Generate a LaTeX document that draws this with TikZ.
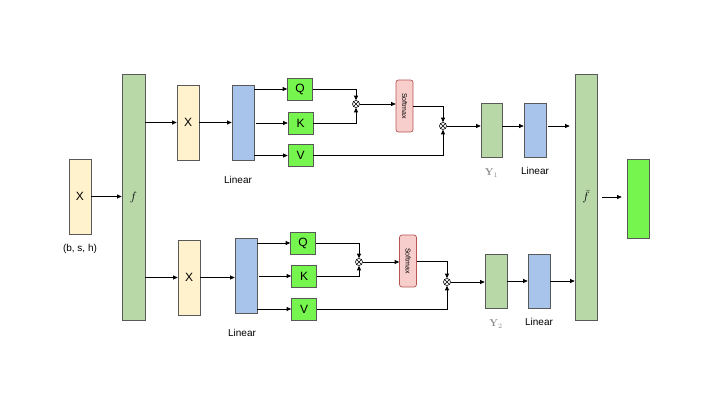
\documentclass[tikz,border=0pt]{standalone}
\usepackage[no-math]{fontspec}
\setmainfont{Liberation Sans}
\usepackage{xcolor}
\usepackage{tikz}
\usetikzlibrary{positioning,arrows.meta,calc}
\definecolor{cream}{HTML}{FFF2CC}
\definecolor{sage}{HTML}{B8D8A8}
\definecolor{sky}{HTML}{A9C4EB}
\definecolor{lime}{HTML}{76F54F}
\definecolor{blush}{HTML}{F8CECC}
\definecolor{rosered}{HTML}{B85450}
\definecolor{edgegrey}{HTML}{595959}
\definecolor{labgrey}{HTML}{8A8A8A}
\tikzset{
  blk/.style={rectangle, draw=edgegrey, fill=#1, line width=0.7pt,
              inner sep=0pt, font=\large, minimum width=22pt},
  qkv/.style={blk=lime, minimum width=25pt, minimum height=22pt},
  soft/.style={rectangle, rounded corners=2.5pt, draw=rosered, fill=blush,
               line width=0.7pt, inner sep=0pt, minimum width=17pt,
               minimum height=52pt, font=\scriptsize},
  mul/.style={circle, draw, line width=0.6pt, minimum size=7pt, inner sep=0pt,
              path picture={\draw[line width=0.5pt]
                (path picture bounding box.north west) -- (path picture bounding box.south east)
                (path picture bounding box.north east) -- (path picture bounding box.south west);}},
  ar/.style={-{Triangle[length=4.5pt,width=4pt]}, line width=0.7pt},
  lbl/.style={font=\normalsize, inner sep=1pt},
  ylbl/.style={font=\normalsize, text=labgrey, inner sep=1pt},
}

\begin{document}
\begin{tikzpicture}[x=1pt, y=-1pt]
  \useasboundingbox (0,0) rectangle (720,405);

  \node[blk=cream, minimum height=75pt] (in) at (80,196.5) {X};
  \node[lbl] (inlbl) at (80,249) {(b, s, h)};
  \node[blk=sage, minimum width=23pt, minimum height=246pt] (f) at (133.5,197) {$f$};

  \node[blk=cream, minimum height=75pt] (xa) at (188,122.5) {X};
  \node[blk=sky, minimum height=75pt] (la) at (243,122.5) {};
  \node[lbl] (lalbl) at (238,180) {Linear};
  \node[qkv] (qa) at (300,89) {Q};
  \node[qkv] (ka) at (300.5,123) {K};
  \node[qkv] (va) at (300.5,155.5) {V};
  \node[mul] (ma) at (356,104) {};
  \node[soft] (sa) at (404.5,106) {\rotatebox{-90}{Softmax}};
  \node[mul] (mb) at (443,126) {};
  \node[blk=sage, minimum width=21pt, minimum height=54pt] (ya) at (491.5,130) {};
  \node[ylbl] (yalbl) at (491.5,173) {$\mathbf{Y}_1$};
  \node[blk=sky, minimum height=54pt] (lb) at (535,130) {};
  \node[lbl] (lblbl) at (535,171) {Linear};

  \node[blk=cream, minimum height=75pt] (xb) at (189,277.5) {X};
  \node[blk=sky, minimum height=75pt] (lc) at (246,275.5) {};
  \node[lbl] (lclbl) at (242,333) {Linear};
  \node[qkv] (qb) at (303,243) {Q};
  \node[qkv] (kb) at (304,276) {K};
  \node[qkv] (vb) at (304,309) {V};
  \node[mul] (mc) at (359,262) {};
  \node[soft] (sb) at (408,261) {\rotatebox{-90}{Softmax}};
  \node[mul] (md) at (447,282) {};
  \node[blk=sage, minimum height=54pt] (yb) at (496,281) {};
  \node[ylbl] (yblbl) at (496,324) {$\mathbf{Y}_2$};
  \node[blk=sky, minimum height=54pt] (ld) at (539,281) {};
  \node[lbl] (ldlbl) at (539,322) {Linear};

  \node[blk=sage, minimum height=246pt] (fbar) at (586,197) {$\bar{f}$};
  \node[blk=lime, minimum height=79pt] (out) at (638,198.5) {};

  \draw[ar] (in.east) -- (in.east -| f.west);
  \draw[ar] (f.east |- xa) -- (xa.west);
  \draw[ar] (f.east |- xb) -- (xb.west);

  \draw[ar] (xa) -- (la);
  \draw[ar] (la.east |- qa) -- (qa.west);
  \draw[ar] ([xshift=2pt]la.east |- ka) -- (ka.west);
  \draw[ar] (la.east |- va) -- (va.west);
  \draw[ar] (qa.east) -| (ma.north);
  \draw[ar] (ka.east) -| (ma.south);
  \draw[ar] (ma.east) -- (ma.east -| sa.west);
  \draw[ar] (sa.east) -| (mb.north);
  \draw[ar] (va.east) -| (mb.south);
  \draw[ar] (mb.east) -- (mb.east -| ya.west);
  \draw[ar] (ya.east |- mb) -- (lb.west |- mb);
  \draw[ar, shorten <=2pt, shorten >=5pt] (lb.east |- mb) -- (fbar.west |- mb);

  \draw[ar] (xb) -- (xb -| lc.west);
  \draw[ar] (lc.east |- qb) -- (qb.west);
  \draw[ar] ([xshift=2pt]lc.east |- kb) -- (kb.west);
  \draw[ar] (lc.east |- vb) -- (vb.west);
  \draw[ar] (qb.east) -| (mc.north);
  \draw[ar] (kb.east) -| (mc.south);
  \draw[ar] (mc.east) -- (mc.east -| sb.west);
  \draw[ar] (sb.east) -| (md.north);
  \draw[ar] (vb.east) -| (md.south);
  \draw[ar] (md.east) -- (md.east -| yb.west);
  \draw[ar] (yb) -- (ld);
  \draw[ar] (ld.east) -- (ld.east -| fbar.west);

  \draw[ar, shorten <=5pt, shorten >=5pt] (fbar.east) -- (fbar.east -| out.west);
\end{tikzpicture}
\end{document}
